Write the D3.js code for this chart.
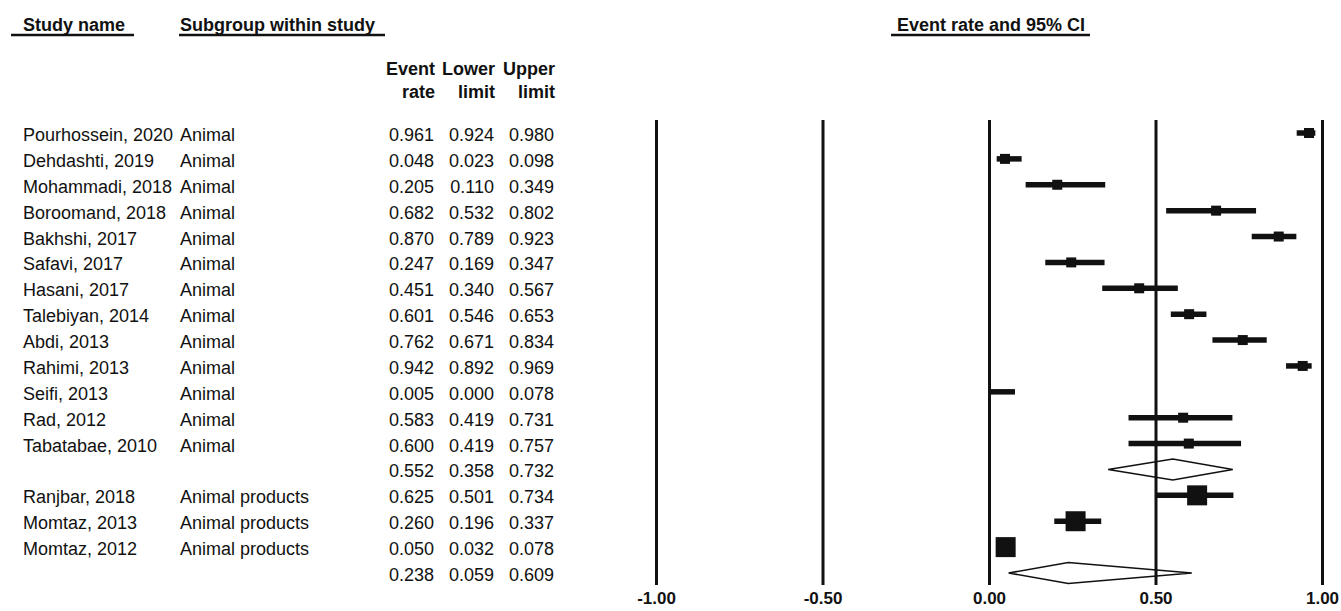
<!DOCTYPE html>
<html>
<head>
<meta charset="utf-8">
<script src="https://cdn.jsdelivr.net/npm/d3@7"></script>
<style>
  body { margin: 0; background: #fff; }
  svg { display: block; font-family: "Liberation Sans", Arial, sans-serif; }
</style>
</head>
<body>
<svg id="chart" width="1341" height="611"></svg>
<script>
// rows of the forest plot, summary rows have empty names
const studyNames = [
  "Pourhossein, 2020", "Dehdashti, 2019", "Mohammadi, 2018", "Boroomand, 2018",
  "Bakhshi, 2017", "Safavi, 2017", "Hasani, 2017", "Talebiyan, 2014",
  "Abdi, 2013", "Rahimi, 2013", "Seifi, 2013", "Rad, 2012", "Tabatabae, 2010", "",
  "Ranjbar, 2018", "Momtaz, 2013", "Momtaz, 2012", ""
];
const subgroups = [
  "Animal", "Animal", "Animal", "Animal", "Animal", "Animal", "Animal", "Animal",
  "Animal", "Animal", "Animal", "Animal", "Animal", "",
  "Animal products", "Animal products", "Animal products", ""
];
const eventRate  = [0.961, 0.048, 0.205, 0.682, 0.870, 0.247, 0.451, 0.601, 0.762, 0.942, 0.005, 0.583, 0.600, 0.552, 0.625, 0.260, 0.050, 0.238];
const lowerLimit = [0.924, 0.023, 0.110, 0.532, 0.789, 0.169, 0.340, 0.546, 0.671, 0.892, 0.000, 0.419, 0.419, 0.358, 0.501, 0.196, 0.032, 0.059];
const upperLimit = [0.980, 0.098, 0.349, 0.802, 0.923, 0.347, 0.567, 0.653, 0.834, 0.969, 0.078, 0.731, 0.757, 0.732, 0.734, 0.337, 0.078, 0.609];
const isSummary  = [false, false, false, false, false, false, false, false, false, false, false, false, false, true, false, false, false, true];
// relative weight within subgroup (drives square size)
const weights    = [1, 1, 1, 1, 1, 1, 1, 1, 1, 1, 0.08, 1, 1, 0, 4, 4, 4, 0];
const tickValues = [-1, -0.5, 0, 0.5, 1];

const svg = d3.select("#chart");
const ink = "#111";

const x = d3.scaleLinear().domain([-1, 1]).range([656, 1322]);
const y = d3.scaleLinear().domain([0, studyNames.length - 1]).range([133, 573]);
const size = d3.scaleSqrt().domain([0, 4]).range([0, 20]);

const fmt3 = d3.format(".3f");
const fmtTick = d3.formatLocale({ decimal: ".", thousands: ",", grouping: [3], currency: ["", ""], minus: "-" }).format(".2f");

const rows = studyNames.map((name, i) => ({
  name, sub: subgroups[i], rate: eventRate[i], lo: lowerLimit[i], hi: upperLimit[i],
  summary: isSummary[i], w: weights[i], i
}));

// column headers
const headers = [
  { text: "Study name", x: 23, anchor: "start", ul: [11, 134] },
  { text: "Subgroup within study", x: 180, anchor: "start", ul: [179, 385] },
  { text: "Event rate and 95% CI", x: 991, anchor: "middle", ul: [891, 1090] }
];
svg.selectAll("text.head").data(headers).enter().append("text")
  .attr("class", "head")
  .attr("x", d => d.x).attr("y", 31)
  .attr("text-anchor", d => d.anchor)
  .attr("font-size", 18).attr("font-weight", "bold").attr("fill", ink)
  .text(d => d.text);
svg.selectAll("line.ul").data(headers).enter().append("line")
  .attr("class", "ul")
  .attr("x1", d => d.ul[0]).attr("x2", d => d.ul[1])
  .attr("y1", 35).attr("y2", 35)
  .attr("stroke", ink).attr("stroke-width", 2.5);

// numeric column headers
const numCols = [
  { x: 435, top: "Event", bottom: "rate", key: "rate" },
  { x: 495, top: "Lower", bottom: "limit", key: "lo" },
  { x: 555, top: "Upper", bottom: "limit", key: "hi" }
];
numCols.forEach(c => {
  svg.append("text").attr("x", c.x).attr("y", 75).attr("text-anchor", "end")
    .attr("font-size", 18).attr("font-weight", "bold").attr("fill", ink).text(c.top);
  svg.append("text").attr("x", c.x).attr("y", 98).attr("text-anchor", "end")
    .attr("font-size", 18).attr("font-weight", "bold").attr("fill", ink).text(c.bottom);
});

// table text
const rowG = svg.selectAll("g.row").data(rows).enter().append("g")
  .attr("class", "row")
  .attr("transform", d => `translate(0,${y(d.i) + 8})`)
  .attr("font-size", 18).attr("fill", ink);
rowG.append("text").attr("x", 23).text(d => d.name);
rowG.append("text").attr("x", 180).text(d => d.sub);
numCols.forEach(c => {
  rowG.append("text").attr("x", c.x - 1).attr("text-anchor", "end").text(d => fmt3(d[c.key]));
});

// vertical reference lines as axis ticks
const axis = d3.axisBottom(x).tickValues(tickValues).tickFormat(fmtTick)
  .tickSizeInner(-(585 - 120)).tickSizeOuter(0).tickPadding(7);
const axG = svg.append("g").attr("transform", "translate(0,585)").call(axis);
axG.select(".domain").remove();
axG.selectAll(".tick line").attr("stroke", ink).attr("stroke-width", 3);
axG.selectAll(".tick text").attr("fill", ink).attr("font-size", 17).attr("font-weight", "bold")
  .attr("font-family", "'Liberation Sans', Arial, sans-serif");

// study CIs and squares
const studies = rows.filter(d => !d.summary);
svg.selectAll("line.ci").data(studies).enter().append("line")
  .attr("class", "ci")
  .attr("x1", d => x(d.lo)).attr("x2", d => x(d.hi))
  .attr("y1", d => y(d.i)).attr("y2", d => y(d.i))
  .attr("stroke", ink).attr("stroke-width", 5.5);
svg.selectAll("rect.pt").data(studies).enter().append("rect")
  .attr("class", "pt")
  .attr("x", d => x(d.rate) - size(d.w) / 2)
  .attr("y", d => y(d.i) - size(d.w) / 2)
  .attr("width", d => size(d.w)).attr("height", d => size(d.w))
  .attr("fill", ink);

// subgroup summary diamonds
const summaries = rows.filter(d => d.summary);
svg.selectAll("path.diamond").data(summaries).enter().append("path")
  .attr("class", "diamond")
  .attr("d", d => {
    const cy = y(d.i), h = 10.5;
    return `M${x(d.lo)},${cy}L${x(d.rate)},${cy - h}L${x(d.hi)},${cy}L${x(d.rate)},${cy + h}Z`;
  })
  .attr("fill", "none").attr("stroke", ink).attr("stroke-width", 1.6);
</script>
</body>
</html>
